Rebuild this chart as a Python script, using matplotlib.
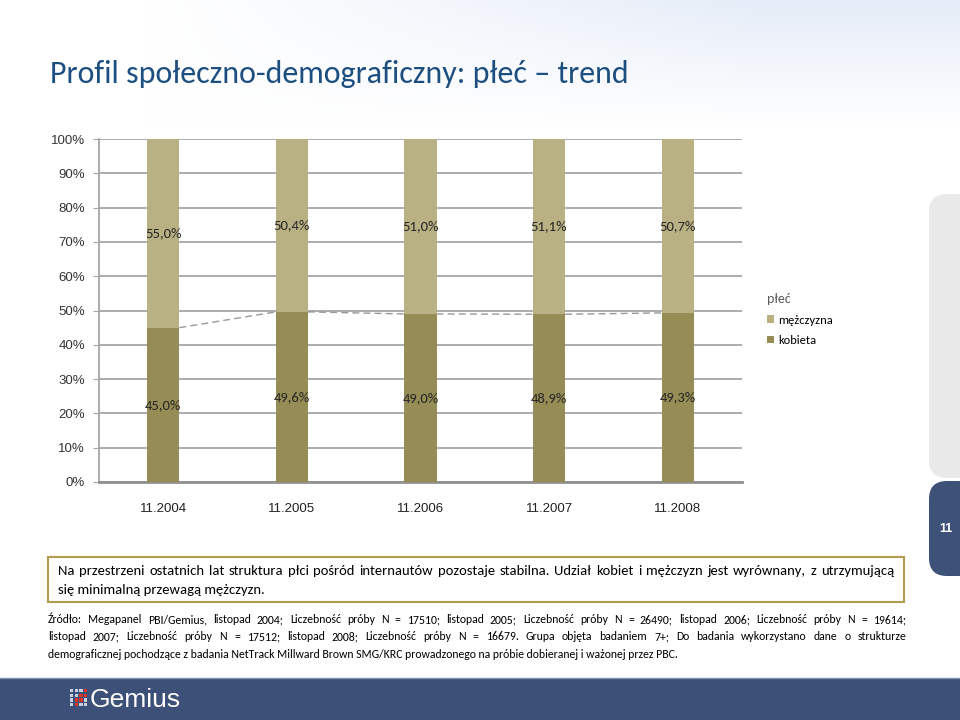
import matplotlib
matplotlib.use('Agg')
import matplotlib.pyplot as plt
from matplotlib.patches import FancyBboxPatch, Rectangle
import numpy as np

periods = ['11.2004', '11.2005', '11.2006', '11.2007', '11.2008']
kobieta = [45.0, 49.6, 49.0, 48.9, 49.3]
mezczyzna = [55.0, 50.4, 51.0, 51.1, 50.7]
yticks = [0, 10, 20, 30, 40, 50, 60, 70, 80, 90, 100]

title = "Profil społeczno-demograficzny: płeć – trend"
note = ["Na przestrzeni ostatnich lat struktura płci pośród internautów pozostaje stabilna. Udział kobiet i mężczyzn jest wyrównany, z utrzymującą",
        "się minimalną przewagą mężczyzn."]
source = ["Źródło: Megapanel PBI/Gemius, listopad 2004; Liczebność próby  N = 17510; listopad 2005; Liczebność próby  N = 26490; listopad 2006; Liczebność próby  N = 19614;",
          "listopad 2007; Liczebność próby  N = 17512; listopad 2008; Liczebność próby N = 16679. Grupa objęta badaniem 7+; Do badania wykorzystano dane o strukturze",
          "demograficznej pochodzące z badania NetTrack Millward Brown SMG/KRC prowadzonego na próbie dobieranej i ważonej przez PBC."]

NARROW = ['Carlito', 'Liberation Sans', 'DejaVu Sans']
ARIAL = ['Liberation Sans', 'DejaVu Sans']
C_LIGHT = '#b9b183'
C_DARK = '#968c55'

W, H = 960, 720
fig = plt.figure(figsize=(9.6, 7.2), dpi=100)
fig.patch.set_facecolor('white')

def px(x, y):
    return x / W, 1 - y / H

# background decoration
bg = fig.add_axes([0, 0, 1, 1], zorder=-10)
bg.set_xlim(0, W)
bg.set_ylim(H, 0)
bg.axis('off')
gx, gy = np.meshgrid(np.linspace(0, 1, 240), np.linspace(0, 1, 80))
fade = np.clip(1 - gy * 1.05, 0, 1) * np.clip(1.6 * gx - 0.25, 0, 1)
fade = np.minimum(fade, 1)
tint = np.array([0.82, 0.87, 0.95])
img = np.ones((80, 240, 3)) * (1 - fade[..., None] * 0.55) + tint * fade[..., None] * 0.55
bg.imshow(img, extent=(0, W, 135, 0), aspect='auto', zorder=0)
bg.add_patch(FancyBboxPatch((929, 194), 60, 284, boxstyle='round,pad=0,rounding_size=18',
                            facecolor='#e9e9e9', edgecolor='none', zorder=1))
bg.add_patch(FancyBboxPatch((929, 481), 60, 95, boxstyle='round,pad=0,rounding_size=18',
                            facecolor='#3d5179', edgecolor='none', zorder=1))
bg.text(946, 529, '11', color='white', fontsize=9, ha='center', va='center', fontweight='bold',
        family=ARIAL)
bg.add_patch(Rectangle((0, 678), W, 42, facecolor='#3d5078', edgecolor='none', zorder=1))
bg.plot([0, W], [678, 678], color='#7f8fb0', lw=1, zorder=2)
# logo squares
for r in range(4):
    for c in range(4):
        col = '#d8342c' if (r + c) in (3, 4) and c > 0 else '#c9d0e0'
        bg.add_patch(Rectangle((70 + c * 4.6, 689 + r * 4.6), 3.4, 3.4, facecolor=col,
                               edgecolor='none', zorder=3))
bg.text(90, 700, 'Gemius', color='white', fontsize=19, va='center', ha='left', family=ARIAL)

# title
bg.text(50, 74, title, color='#1c4f80', fontsize=23, va='center', ha='left', family=NARROW)

# chart
ax = fig.add_axes([99 / W, (H - 482) / H, 643 / W, 343 / H])
ax.patch.set_alpha(0)
x = np.arange(len(periods))
bw = 0.25
ax.bar(x, kobieta, bw, color=C_DARK, label='kobieta', zorder=3)
ax.bar(x, mezczyzna, bw, bottom=kobieta, color=C_LIGHT, label='mężczyzna', zorder=3)
for i in range(len(periods) - 1):
    ax.plot([x[i] + bw / 2, x[i + 1] - bw / 2], [kobieta[i], kobieta[i + 1]],
            color='#999999', lw=1, ls=(0, (5, 3)), zorder=2)
for i in range(len(periods)):
    ax.text(x[i], kobieta[i] / 2, f"{kobieta[i]:.1f}%".replace('.', ','), ha='center',
            va='center', fontsize=10.5, color='#262626', family=NARROW, zorder=4)
    ax.text(x[i], kobieta[i] + mezczyzna[i] / 2, f"{mezczyzna[i]:.1f}%".replace('.', ','),
            ha='center', va='center', fontsize=10.5, color='#262626', family=NARROW, zorder=4)
ax.set_xlim(-0.5, len(periods) - 0.5)
ax.set_ylim(0, 100)
ax.set_yticks(yticks)
ax.set_yticklabels([f"{v}%" for v in yticks], family=ARIAL, fontsize=9.5, color='#333333')
ax.set_xticks(x)
ax.set_xticklabels(periods, family=ARIAL, fontsize=9.5, color='#222222')
ax.yaxis.grid(True, color='#a6a6a6', lw=1.3, zorder=0)
ax.tick_params(axis='y', length=4, color='#a6a6a6', pad=6)
ax.tick_params(axis='x', length=0, pad=15)
for s in ['top', 'right']:
    ax.spines[s].set_visible(False)
ax.spines['left'].set_color('#a6a6a6')
ax.spines['left'].set_linewidth(1.3)
ax.spines['bottom'].set_color('#909090')
ax.spines['bottom'].set_linewidth(2)

handles, labels = ax.get_legend_handles_labels()
leg = fig.legend(handles[::-1], labels[::-1], title='płeć', loc='upper left',
                 bbox_to_anchor=px(756, 282), frameon=False,
                 title_fontsize=10, prop={'family': NARROW, 'size': 9},
                 handlelength=0.55, handleheight=0.55, handletextpad=0.3, labelspacing=0.75)
leg.get_title().set_family(NARROW)
leg.get_title().set_color('#595959')
leg._legend_box.align = 'left'

# note box
bg.add_patch(Rectangle((48, 557), 856, 45, facecolor='white', edgecolor='#b39c4d', lw=1.5, zorder=2))

fig.canvas.draw()
renderer = fig.canvas.get_renderer()

def justify(line, x0, x1, y, size, just=True, **kw):
    # y is the baseline in pixels
    if not just:
        bg.text(x0, y, line, fontsize=size, va='baseline', ha='left', family=NARROW, zorder=5, **kw)
        return
    words = line.split()
    texts = [bg.text(0, y, w, fontsize=size, va='baseline', ha='left', family=NARROW, zorder=5, **kw)
             for w in words]
    widths = [t.get_window_extent(renderer).width for t in texts]
    gap = (x1 - x0 - sum(widths)) / max(len(words) - 1, 1)
    gap = max(gap, 2.0)
    cur = x0
    for t, wd in zip(texts, widths):
        t.set_x(cur)
        cur += wd + gap

justify(note[0], 58, 894, 575, 10.5, just=True, color='black')
justify(note[1], 58, 894, 594, 10.5, just=False, color='black')
justify(source[0], 48, 906, 623, 8.5, just=True, color='black')
justify(source[1], 48, 906, 640.5, 8.5, just=True, color='black')
justify(source[2], 48, 906, 658, 8.5, just=False, color='black')

fig.savefig('out.png', dpi=100)
